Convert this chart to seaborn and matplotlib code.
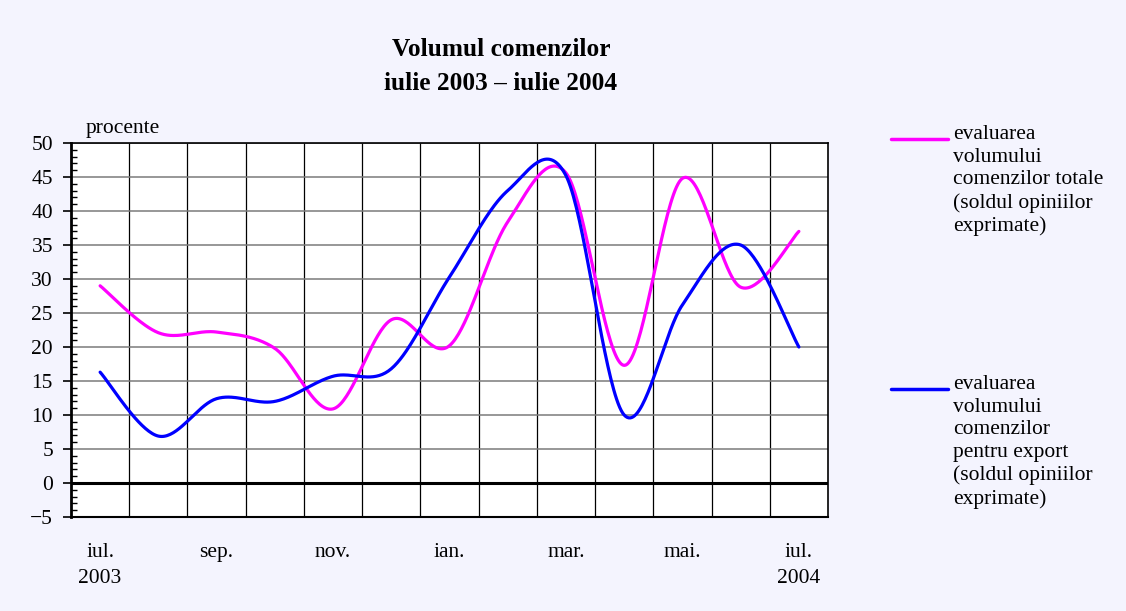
import numpy as np
import matplotlib
matplotlib.use("Agg")
import matplotlib.pyplot as plt
import seaborn as sns
from matplotlib.lines import Line2D

# monthly values, iul. 2003 - iul. 2004 (sold, procente)
months = ["iul.", "aug.", "sep.", "oct.", "nov.", "dec.", "ian.",
          "feb.", "mar.", "apr.", "mai.", "iun.", "iul."]
tick_labels = ["iul.\n2003", "sep.", "nov.", "ian.", "mar.", "mai.", "iul.\n2004"]
totale = [29.0, 22.1, 22.2, 19.8, 10.9, 24.0, 20.2, 38.4, 45.6, 17.3, 44.8, 28.8, 37.0]
export = [16.3, 6.9, 12.4, 12.0, 15.7, 16.8, 30.3, 43.0, 45.2, 10.0, 26.2, 35.0, 20.0]

label_totale = "evaluarea\nvolumului\ncomenzilor totale\n(soldul opiniilor\nexprimate)"
label_export = "evaluarea\nvolumului\ncomenzilor\npentru export\n(soldul opiniilor\nexprimate)"

col_totale = "#FF00FF"
col_export = "#0000FF"
bg = "#F4F4FE"


def smooth(vals, n=40):
    # excel-like smoothed line: catmull-rom drawn as cubic bezier segments
    x = np.arange(len(vals), dtype=float)
    y = np.asarray(vals, dtype=float)
    p = np.column_stack([x, y])
    p = np.vstack([p[:1], p, p[-1:]])
    t = np.linspace(0, 1, n)[:, None]
    out = []
    for i in range(1, len(p) - 2):
        b0 = p[i]
        b1 = p[i] + (p[i + 1] - p[i - 1]) / 6
        b2 = p[i + 1] - (p[i + 2] - p[i]) / 6
        b3 = p[i + 1]
        seg = ((1 - t) ** 3) * b0 + 3 * ((1 - t) ** 2) * t * b1 + 3 * (1 - t) * t ** 2 * b2 + t ** 3 * b3
        out.append(seg if i == 1 else seg[1:])
    out = np.vstack(out)
    return out[:, 0], out[:, 1]


sns.set_style("white")
plt.rcParams['font.family'] = ['Liberation Serif', 'DejaVu Serif']
plt.rcParams['font.size'] = 15.5
plt.rcParams['text.color'] = 'black'
plt.rcParams['xtick.color'] = 'black'
plt.rcParams['ytick.color'] = 'black'

fig = plt.figure(figsize=(11.26, 6.11), dpi=100, facecolor=bg)
ax = fig.add_axes([71 / 1126, 1 - 517 / 611, (828 - 71) / 1126, (517 - 143) / 611])
ax.set_facecolor("white")

for vals, col in [(totale, col_totale), (export, col_export)]:
    xs, ys = smooth(vals)
    sns.lineplot(x=xs, y=ys, sort=False, estimator=None, color=col, lw=2.3, ax=ax)

ax.set_xlim(-0.5, len(months) - 0.5)
ax.set_ylim(-5, 50)

ax.set_xticks(range(0, len(months), 2))
ax.set_xticklabels(tick_labels)
for lab in ax.get_xticklabels():
    lab.set_linespacing(1.45)
ax.set_xticks(np.arange(0.5, len(months) - 1, 1), minor=True)
ax.tick_params(axis='x', which='both', length=0, pad=19)

ax.set_yticks(range(-5, 51, 5))
ax.set_yticks(range(-5, 51), minor=True)
ax.tick_params(axis='y', which='major', direction='out', length=6, width=1.2, pad=7, left=True)
ax.tick_params(axis='y', which='minor', direction='in', length=4, width=1, left=True)

ax.grid(which='minor', axis='x', color='black', lw=0.9)
ax.grid(which='major', axis='y', color='#7a7a7a', lw=1.1)
ax.axhline(0, color='black', lw=2.2, zorder=1.5)
ax.set_axisbelow(True)

for side, w in [('left', 2.0), ('bottom', 1.5), ('top', 1.2), ('right', 1.2)]:
    ax.spines[side].set_visible(True)
    ax.spines[side].set_color('black')
    ax.spines[side].set_linewidth(w)

ax.set_xlabel("")
ax.set_ylabel("")
fig.text(86 / 1126, 1 - 128 / 611, "procente", ha='left', va='center', fontsize=15.5)

fig.text(501 / 1126, 1 - 49 / 611, "Volumul comenzilor", ha='center', va='center',
         fontsize=18.3, fontweight='bold')
fig.text(501 / 1126, 1 - 83 / 611, "iulie 2003 \u2013 iulie 2004", ha='center', va='center',
         fontsize=18.3, fontweight='bold')

# legend, drawn by hand next to the plot
for ytop, col, txt in [(139, col_totale, label_totale), (389, col_export, label_export)]:
    fig.add_artist(Line2D([891 / 1126, 948 / 1126], [1 - ytop / 611, 1 - ytop / 611],
                          color=col, lw=2.5, transform=fig.transFigure))
    fig.text(953 / 1126, 1 - (ytop - 14) / 611, txt, ha='left', va='top',
             fontsize=15.5, linespacing=1.26)

fig.savefig("out.png", dpi=100, facecolor=bg)
